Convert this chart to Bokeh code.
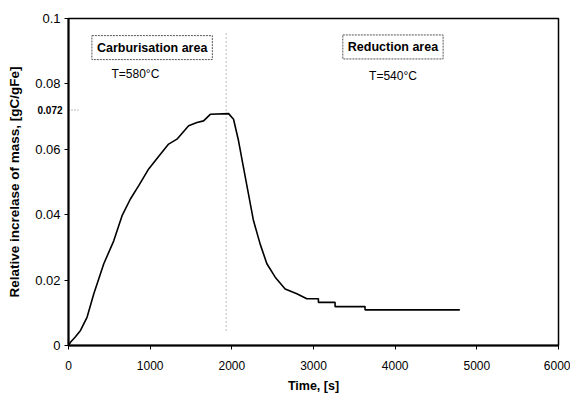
from bokeh.plotting import figure
from bokeh.models import Label, FixedTicker, Range1d
from bokeh.embed import file_html
from bokeh.resources import INLINE

# Data
time_s = [0, 24, 80, 147, 228, 310, 432, 554, 656, 758, 860, 982, 1125, 1226, 1328,
          1471, 1573, 1654, 1736, 1960, 2021, 2082, 2143, 2204, 2265, 2347, 2429,
          2531, 2653, 2796, 2918, 3060, 3060, 3264, 3264, 3631, 3631, 4792]
mass_inc = [0, 0.001, 0.0025, 0.0046, 0.0087, 0.0158, 0.025, 0.032, 0.0397, 0.0448,
            0.0489, 0.054, 0.0585, 0.0616, 0.0631, 0.0672, 0.0682, 0.0687, 0.0707,
            0.0709, 0.0692, 0.0626, 0.0544, 0.0463, 0.0382, 0.031, 0.025, 0.0209,
            0.0173, 0.0158, 0.0143, 0.0143, 0.0132, 0.0132, 0.0119, 0.0119, 0.0109,
            0.0109]

x_ticks = [0, 1000, 2000, 3000, 4000, 5000, 6000]
y_ticks = [0, 0.02, 0.04, 0.06, 0.08, 0.1]
y_tick_labels = ["0", "0.02", "0.04", "0.06", "0.08", "0.1"]

switch_time = 1930
peak_value = 0.072

FONT = "Liberation Sans"

p = figure(width=570, height=398, output_backend="svg", toolbar_location=None,
           x_range=Range1d(0, 6000), y_range=Range1d(0, 0.1),
           min_border_left=68, min_border_right=12, min_border_top=18, min_border_bottom=53)

p.background_fill_color = "white"
p.border_fill_color = "white"
p.outline_line_color = "black"
p.outline_line_width = 1.5
p.grid.visible = False

for ax in (p.xaxis[0], p.yaxis[0]):
    ax.axis_line_width = 2
    ax.axis_line_color = "black"
    ax.major_tick_line_color = "black"
    ax.major_tick_out = 4
    ax.major_tick_in = 0
    ax.minor_tick_line_color = None
    ax.major_label_text_font = FONT
    ax.major_label_text_color = "black"
    ax.axis_label_text_font = FONT
    ax.axis_label_text_font_style = "bold"
    ax.axis_label_text_font_size = "12.5px"
    ax.axis_label_text_color = "black"

p.xaxis.ticker = FixedTicker(ticks=x_ticks)
p.xaxis.major_label_text_font_size = "12px"
p.xaxis.major_label_standoff = 11
p.xaxis.axis_label = "Time, [s]"
p.xaxis.axis_label_standoff = 6

p.yaxis.ticker = FixedTicker(ticks=y_ticks)
p.yaxis.major_label_overrides = {t: l for t, l in zip(y_ticks, y_tick_labels)}
p.yaxis.major_label_text_font_size = "13px"
p.yaxis.major_label_standoff = 4
p.yaxis.axis_label = "Relative increlase of mass, [gC/gFe]"
p.yaxis.axis_label_text_font_size = "13.5px"
p.yaxis.axis_label_standoff = 10

# markers for switch time and peak value
p.segment(x0=[switch_time], y0=[0.0046], x1=[switch_time], y1=[0.0956],
          line_color="#777777", line_dash="1 3", line_width=1)
p.segment(x0=[0], y0=[peak_value], x1=[120], y1=[peak_value],
          line_color="#777777", line_dash="1 2", line_width=1)

p.line(time_s, mass_inc, line_color="black", line_width=1.6)

peak_label = Label(x=-6, y=peak_value, x_units="screen", text="0.072", text_font=FONT,
                   text_font_size="10px", text_font_style="bold",
                   text_align="right", text_baseline="middle", text_color="black")
p.add_layout(peak_label, "above")

p.add_layout(Label(x=1024, y=0.0911, text="Carburisation area", text_font=FONT,
                   text_font_size="12.5px", text_font_style="bold",
                   text_align="center", text_baseline="middle", text_color="black",
                   background_fill_color="white", border_line_color="#555555",
                   border_line_width=1, border_line_dash="2 1", padding=5))
p.add_layout(Label(x=3973, y=0.0913, text="Reduction area", text_font=FONT,
                   text_font_size="12.5px", text_font_style="bold",
                   text_align="center", text_baseline="middle", text_color="black",
                   background_fill_color="white", border_line_color="#555555",
                   border_line_width=1, border_line_dash="2 1", padding=5))
p.add_layout(Label(x=819, y=0.083, text="T=580°C", text_font=FONT,
                   text_font_size="12px", text_align="center",
                   text_baseline="middle", text_color="black"))
p.add_layout(Label(x=3973, y=0.0825, text="T=540°C", text_font=FONT,
                   text_font_size="12px", text_align="center",
                   text_baseline="middle", text_color="black"))

open("out.html", "w").write(file_html(p, INLINE))
